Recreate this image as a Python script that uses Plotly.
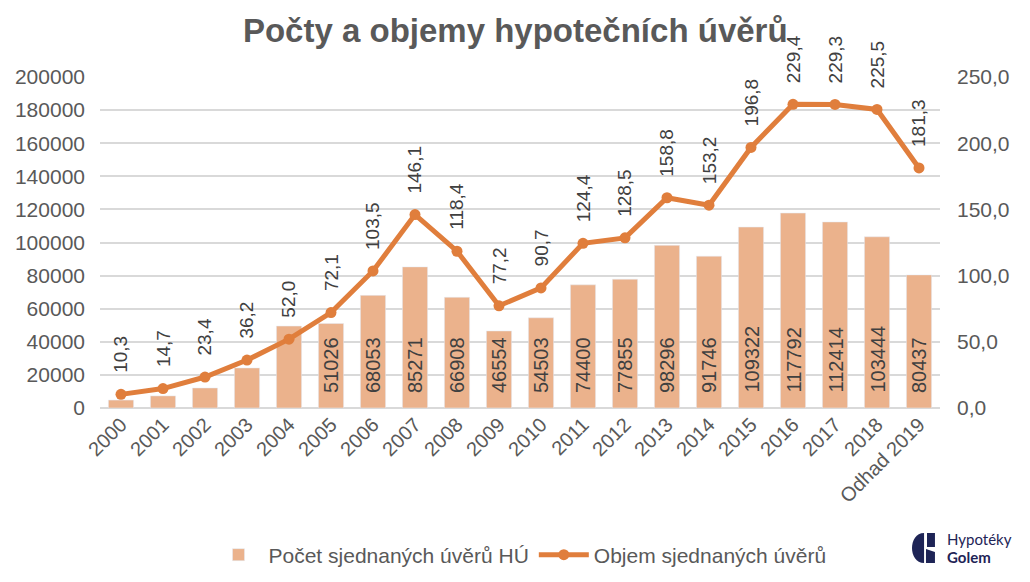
import plotly.graph_objects as go

roky = ["2000", "2001", "2002", "2003", "2004", "2005", "2006", "2007", "2008", "2009",
        "2010", "2011", "2012", "2013", "2014", "2015", "2016", "2017", "2018", "Odhad 2019"]
pocet = [4800, 7300, 12100, 24200, 49500, 51026, 68053, 85271, 66908, 46554,
         54503, 74400, 77855, 98296, 91746, 109322, 117792, 112414, 103444, 80437]
# labels only shown from 2005 on, like the original
prvni_popisek = 5
objem = [10.3, 14.7, 23.4, 36.2, 52.0, 72.1, 103.5, 146.1, 118.4, 77.2,
         90.7, 124.4, 128.5, 158.8, 153.2, 196.8, 229.4, 229.3, 225.5, 181.3]

BAR = "#EBB28C"
LINE = "#E07E3C"
GREY = "#595959"
TXT = "#404040"
NAVY = "#1E2456"
FONT = "Liberation Sans, Arial"

fig = go.Figure()
fig.add_trace(go.Bar(
    x=roky, y=pocet, name="Počet sjednaných úvěrů HÚ",
    marker_color=BAR, width=0.6,
))
fig.add_trace(go.Scatter(
    x=roky, y=objem, name="Objem sjednaných úvěrů", yaxis="y2",
    mode="lines+markers", line=dict(color=LINE, width=5),
    marker=dict(color=LINE, size=11),
))

anns = []
# category axis: annotations take the category index (numeric-looking names would be read as indices)
for i, v in enumerate(objem):
    anns.append(dict(x=i, y=v, xref="x", yref="y2", text=f"{v:.1f}".replace(".", ","),
                     showarrow=False, textangle=-90, yanchor="bottom", xanchor="center",
                     yshift=19, font=dict(size=19, color=TXT)))
for i, v in enumerate(pocet):
    if i < prvni_popisek:
        continue
    anns.append(dict(x=i, y=0, xref="x", yref="y", text=str(v),
                     showarrow=False, textangle=-90, yanchor="bottom", xanchor="center",
                     yshift=13, font=dict(size=20, color=TXT)))

# logo Hypotéky Golem (screen pixel -> paper)
def px(x):
    return (x - 100) / 840

def py(y):
    return (408 - y) / 331

anns.append(dict(x=px(945), y=py(539), xref="paper", yref="paper", text="Hypotéky",
                 showarrow=False, xanchor="left", yanchor="middle",
                 font=dict(size=15, color=NAVY, family="Lato, Liberation Sans")))
anns.append(dict(x=px(945), y=py(557), xref="paper", yref="paper", text="<b>Golem</b>",
                 showarrow=False, xanchor="left", yanchor="middle",
                 font=dict(size=15, color=NAVY, family="Lato, Liberation Sans")))

def path(pts, close=True):
    s = "M " + " L ".join(f"{px(a):.4f},{py(b):.4f}" for a, b in pts)
    return s + (" Z" if close else "")

left_g = (f"M {px(924):.4f},{py(533):.4f} "
          f"C {px(908):.4f},{py(533):.4f} {px(908):.4f},{py(563):.4f} {px(924):.4f},{py(563):.4f} Z")
shapes = [
    dict(type="path", xref="paper", yref="paper", path=left_g, fillcolor=NAVY, line_width=0),
    dict(type="path", xref="paper", yref="paper",
         path=path([(927, 533), (935, 533), (935, 547), (927, 547)]), fillcolor=NAVY, line_width=0),
    dict(type="path", xref="paper", yref="paper",
         path=path([(926, 549), (935, 552), (935, 563), (926, 563)]), fillcolor=NAVY, line_width=0),
]

# the page body adds an 8px offset, margins compensate for it
fig.update_layout(
    width=1030, height=582,
    paper_bgcolor="white", plot_bgcolor="white",
    separators=", ",
    font=dict(family=FONT, color=GREY),
    title=dict(text="<b>Počty a objemy hypotečních úvěrů</b>", x=0.4925, xanchor="center",
               y=0.962, yanchor="middle", font=dict(size=33, color=GREY)),
    margin=dict(l=92, r=98, t=69, b=182, autoexpand=False),
    bargap=0.4,
    showlegend=True,
    legend=dict(orientation="h", x=0.5, xanchor="center", y=py(555), yanchor="middle",
                font=dict(size=21, color=GREY, family=FONT),
                itemwidth=50),
    annotations=anns,
    shapes=shapes,
    xaxis=dict(type="category", tickangle=-45, showgrid=False, showline=False, ticks="",
               range=[-0.5, len(roky) - 0.5], automargin=False,
               tickfont=dict(size=20, color=GREY, family=FONT)),
    yaxis=dict(range=[0, 200000], dtick=20000, tickformat="d", showgrid=True,
               gridcolor="#D9D9D9", gridwidth=1.5, zeroline=True, zerolinecolor="#D9D9D9",
               zerolinewidth=1.5, ticks="", ticklabelstandoff=14, automargin=False,
               tickfont=dict(size=21, color=GREY)),
    yaxis2=dict(range=[0, 250], dtick=50, tickformat=".1f", overlaying="y", side="right",
                showgrid=False, zeroline=False, ticks="", ticklabelstandoff=16, automargin=False,
                tickfont=dict(size=21, color=GREY)),
)

fig.write_html("out.html")
